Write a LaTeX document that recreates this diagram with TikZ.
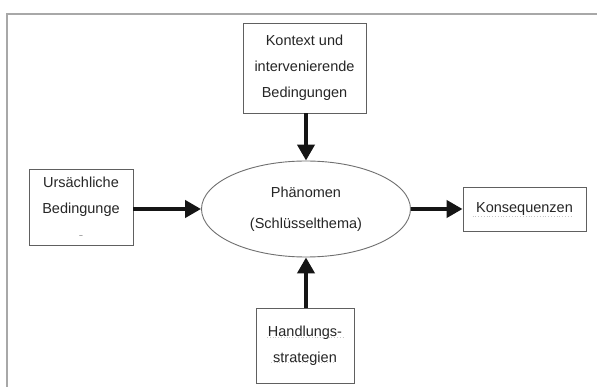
\documentclass[tikz,border=0pt]{standalone}
\usepackage{fontspec}
\setmainfont{Liberation Sans}
\usetikzlibrary{arrows.meta,shapes.geometric}
\definecolor{framecol}{HTML}{A8A8A8}
\definecolor{boxcol}{HTML}{606060}
\definecolor{txtcol}{HTML}{262626}
\definecolor{arrcol}{HTML}{151515}
\begin{document}
\begin{tikzpicture}[x=1pt,y=-1pt,
  box/.style={draw=boxcol, line width=0.9pt, fill=white, inner sep=0pt, align=center,
    text=txtcol, font=\fontsize{14.5pt}{26pt}\selectfont},
  ell/.style={ellipse, draw=boxcol!90, line width=0.9pt, inner sep=0pt, align=center,
    minimum width=209pt, minimum height=96pt, text=txtcol, font=\fontsize{14.5pt}{31pt}\selectfont},
  bigarrow/.style={draw=arrcol, line width=4.6pt, -{Triangle[length=16pt,width=17pt]}},
  spell/.style={draw=gray!45, line width=0.8pt, dotted}]
\useasboundingbox (0,0) rectangle (597,387);
\fill[white] (0,0) rectangle (597,387);
\draw[framecol, line width=2.2pt] (7,387) -- (7,14) -- (597,14);

\node[box, minimum width=123pt, minimum height=90pt] (ctx) at (304.5,68)
  {Kontext und\\intervenierende\\Bedingungen};
\node[box, minimum width=104pt, minimum height=76pt] (cause) at (81,207)
  {Ursächliche\\Bedingunge\\[-2pt]{\fontsize{6pt}{6pt}\selectfont –}};
\node[ell] (phen) at (306,209) {Phänomen\\(Schlüsselthema)};
\node[box, minimum width=123pt, minimum height=44pt] (cons) at (524.5,209) {Konsequenzen};
\node[box, minimum width=98pt, minimum height=75pt] (strat) at (305,345.5)
  {Handlungs-\\strategien};

\draw[bigarrow] (phen.north |- ctx.south) -- (phen.north);
\draw[bigarrow] (phen.south |- strat.north) -- (phen.south);
\draw[bigarrow] (cause.east |- phen.west) -- (phen.west);
\draw[bigarrow] (phen.east) -- (cons.west |- phen.east);

\draw[spell] ([xshift=10pt,yshift=-7pt]cons.west) -- ([xshift=-15pt,yshift=-7pt]cons.east);
\draw[spell] (267,337) -- (343,337);
\draw[spell] (271,362) -- (335,362);
\end{tikzpicture}
\end{document}
